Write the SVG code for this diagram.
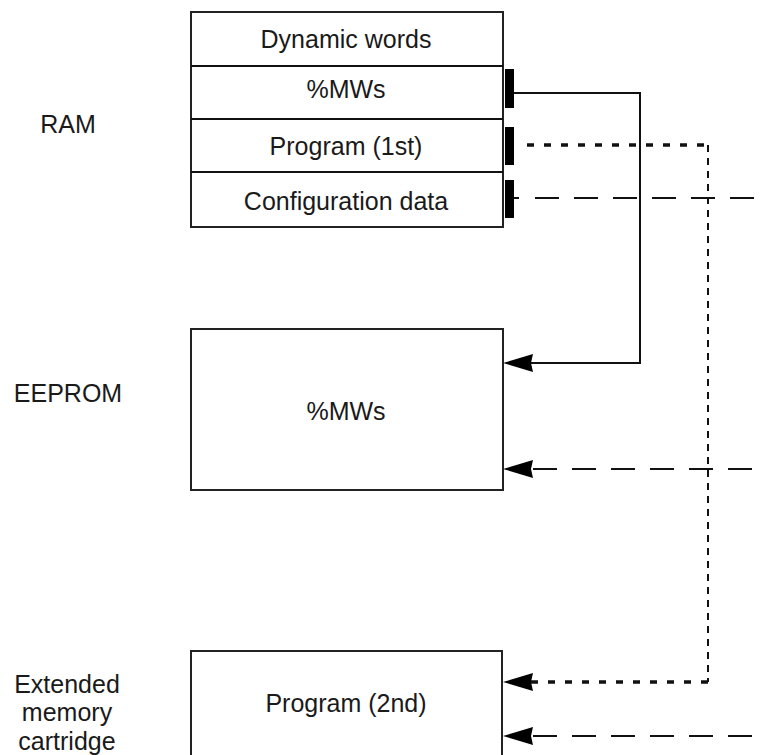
<svg xmlns="http://www.w3.org/2000/svg" width="763" height="755" viewBox="0 0 763 755">
<style>
text{font-family:"Liberation Sans",Arial,sans-serif;font-size:25px;fill:#1a1a1a;text-anchor:middle}
.box{fill:#fff;stroke:#222;stroke-width:2}
.solid{fill:none;stroke:#111;stroke-width:2}
.dot{fill:none;stroke:#111;stroke-width:3.5;stroke-dasharray:7 10}
.vdot{fill:none;stroke:#111;stroke-width:2;stroke-dasharray:7 6}
.dash{fill:none;stroke:#111;stroke-width:2;stroke-dasharray:24 15}
.bar{fill:#000}
</style>
<defs>
<polygon id="ah" points="0,0 30,-9 28,0 30,9" fill="#000"/>
</defs>
<g id="labels">
<text x="68" y="133">RAM</text>
<text x="68" y="402">EEPROM</text>
<text x="67" y="693">Extended</text>
<text x="67" y="721">memory</text>
<text x="67" y="750">cartridge</text>
</g>
<g id="ram">
<rect class="box" x="191" y="12" width="312" height="215"/>
<line class="solid" x1="191" y1="66" x2="503" y2="66"/>
<line class="solid" x1="191" y1="119" x2="503" y2="119"/>
<line class="solid" x1="191" y1="172" x2="503" y2="172"/>
<text x="346" y="48">Dynamic words</text>
<text x="346" y="98">%MWs</text>
<text x="346" y="155">Program (1st)</text>
<text x="346" y="210">Configuration data</text>
<rect class="bar" x="505" y="69" width="9" height="39"/>
<rect class="bar" x="505" y="127" width="9" height="38"/>
<rect class="bar" x="505" y="180" width="9" height="38"/>
</g>
<g id="eeprom">
<rect class="box" x="191" y="329" width="312" height="161"/>
<text x="346" y="420">%MWs</text>
</g>
<g id="cartridge">
<path class="box" d="M191,756 V651 H502 V756"/>
<text x="346" y="712">Program (2nd)</text>
</g>
<g id="connectors">
<path class="solid" d="M514,93 H640 V363 H530"/>
<use href="#ah" x="503" y="363"/>
<path class="dot" d="M527,145 H708"/>
<path class="vdot" d="M708,145 V682"/>
<path class="dot" d="M708,682 H530"/>
<use href="#ah" x="503" y="682"/>
<path class="dash" d="M535,198 H763"/>
<line class="solid" x1="514" y1="198" x2="519" y2="198"/>
<path class="dash" d="M533,469 H763"/>
<use href="#ah" x="503" y="469"/>
<path class="dash" d="M533,736 H763"/>
<use href="#ah" x="503" y="736"/>
</g>
</svg>
